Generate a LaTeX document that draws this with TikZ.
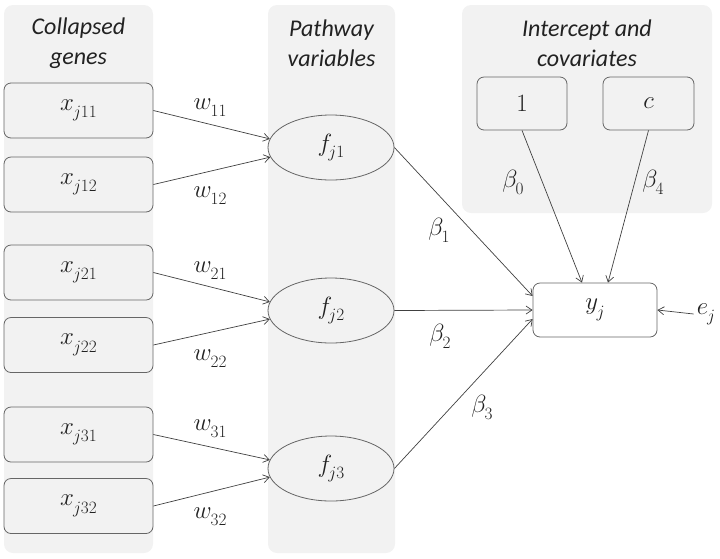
\documentclass[tikz,border=0pt]{standalone}
\usepackage{fontspec}
\newfontfamily\ttlfont{Carlito}
\usetikzlibrary{calc,arrows.meta,shapes.geometric}
\definecolor{panelgray}{HTML}{F2F2F2}
\definecolor{edgegray}{HTML}{666666}
\definecolor{linegray}{HTML}{404040}
\definecolor{txt}{HTML}{222222}
% variable with enlarged subscript: \sv[kern]{size}{letter}{subscript}
\newcommand\sv[4][-1pt]{$#3$\kern#1\raisebox{-0.3em}{\fontsize{#2}{#2}\selectfont$#4$}}
\begin{document}
\begin{tikzpicture}[x=1pt,y=-1pt,
  panel/.style={fill=panelgray,draw=none,rounded corners=9pt},
  ttl/.style={text=txt,align=center,font=\ttlfont\itshape\fontsize{24}{30}\selectfont},
  xbox/.style={draw=edgegray,fill=panelgray,rounded corners=7pt,line width=0.8pt,
     minimum width=149pt,minimum height=55pt,inner sep=0pt,text=txt,font=\fontsize{25}{25}\selectfont},
  fell/.style={draw=edgegray,fill=panelgray,ellipse,line width=0.8pt,
     minimum width=126pt,minimum height=65pt,inner sep=0pt,text=txt,font=\fontsize{23}{23}\selectfont},
  lbl/.style={text=txt,inner sep=0pt,font=\fontsize{23}{23}\selectfont},
  arr/.style={draw=linegray,line width=0.7pt,-{Straight Barb[length=6pt,width=8pt]}}
]
\useasboundingbox (0,0) rectangle (720,558);
% panels
\path[panel] (4,5) rectangle (153,553);
\path[panel] (268,5) rectangle (395,553);
\path[panel] (462,5) rectangle (712,213);
\node[ttl] (t1) at (78.5,43) {Collapsed\\genes};
\node[ttl] (t2) at (331.5,43) {Pathway\\variables};
\node[ttl] (t3) at (587,43) {Intercept and\\covariates};
% gene boxes
\node[xbox] (x11) at (78.5,110.5) {\sv{19}{x}{j11}};
\node[xbox] (x12) at (78.5,184.5) {\sv{19}{x}{j12}};
\node[xbox] (x21) at (78.5,272.5) {\sv{19}{x}{j21}};
\node[xbox] (x22) at (78.5,345) {\sv{19}{x}{j22}};
\node[xbox] (x31) at (78.5,434.5) {\sv{19}{x}{j31}};
\node[xbox] (x32) at (78.5,506) {\sv{19}{x}{j32}};
% pathway ellipses
\node[fell] (f1) at (331,147.5) {\sv[-4pt]{16}{f}{j1}};
\node[fell] (f2) at (331,310.5) {\sv[-4pt]{16}{f}{j2}};
\node[fell] (f3) at (331,468.5) {\sv[-4pt]{16}{f}{j3}};
% intercept / covariate
\node[xbox,minimum width=90pt,minimum height=53pt] (b1) at (522,103.5) {$1$};
\node[xbox,minimum width=91pt,minimum height=53pt] (bc) at (648.5,103.5) {$c$};
% outcome
\node[xbox,fill=white,minimum width=124pt,minimum height=54pt] (yj) at (595,310) {\sv[-1.5pt]{19}{y}{j}};
\node[lbl,inner sep=3pt] (ej) at (706,314) {\sv{17}{e}{j}};
% arrows genes -> pathways
\draw[arr] (x11.east) -- (f1.172);
\draw[arr] (x12.east) -- (f1.189);
\draw[arr] (x21.east) -- (f2.172);
\draw[arr] (x22.east) -- (f2.188);
\draw[arr] (x31.east) -- (f3.172);
\draw[arr] (x32.east) -- (f3.188);
% pathways -> outcome
\draw[arr] (f1.east) -- ($(yj.west)+(0,-14)$);
\draw[arr] (f2.east) -- (yj.west);
\draw[arr] (f3.east) -- ($(yj.west)+(0,9)$);
\draw[arr] (b1.south) -- ($(yj.north)+(-13,0)$);
\draw[arr] (bc.south) -- ($(yj.north)+(13,0)$);
\draw[arr] (ej.west) -- (yj.east);
% weight labels
\node[lbl] (w11) at (210,108) {\sv{16}{w}{11}};
\node[lbl] (w12) at (210,196) {\sv{16}{w}{12}};
\node[lbl] (w21) at (210,271) {\sv{16}{w}{21}};
\node[lbl] (w22) at (210,359) {\sv{16}{w}{22}};
\node[lbl] (w31) at (210,429) {\sv{16}{w}{31}};
\node[lbl] (w32) at (210,517) {\sv{16}{w}{32}};
\node[lbl] (be0) at (513,182) {\sv[-2pt]{16}{\beta}{0}};
\node[lbl] (be4) at (653,182) {\sv[-2pt]{16}{\beta}{4}};
\node[lbl] (be1) at (439,230) {\sv[-2pt]{16}{\beta}{1}};
\node[lbl] (be2) at (440,336) {\sv[-2pt]{16}{\beta}{2}};
\node[lbl] (be3) at (482,407) {\sv[-2pt]{16}{\beta}{3}};
\end{tikzpicture}
\end{document}
